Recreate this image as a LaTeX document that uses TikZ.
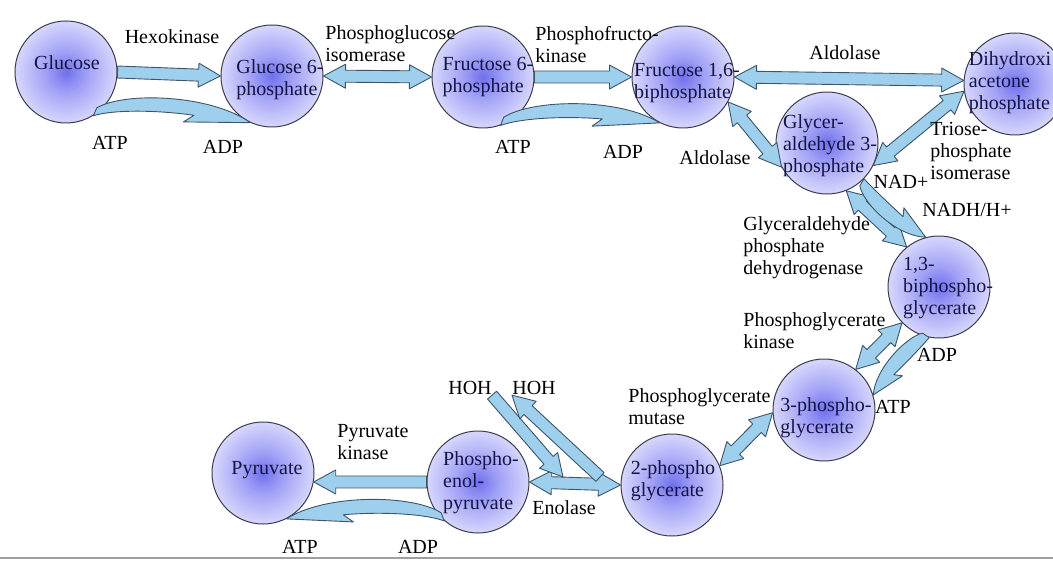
\documentclass[tikz,border=0pt]{standalone}
\usepackage{fontspec}
\setmainfont{Liberation Serif}
\usetikzlibrary{calc}
\definecolor{ballin}{RGB}{112,112,236}
\definecolor{ballmid}{RGB}{160,160,246}
\definecolor{ballout}{RGB}{222,222,253}
\definecolor{ballrim}{RGB}{60,60,75}
\definecolor{ballink}{RGB}{20,20,70}
\definecolor{arrowfill}{RGB}{158,208,238}
\definecolor{arrowrim}{RGB}{62,84,104}
\pgfdeclareradialshading{blob}{\pgfpoint{0bp}{0bp}}{color(0bp)=(ballin); color(10bp)=(ballmid); color(27bp)=(ballout); color(50bp)=(ballout)}
\tikzset{
  ball/.style={circle,draw=ballrim,line width=.5pt,shading=blob,minimum size=51pt,inner sep=0pt},
  balltext/.style={align=left,text=ballink,inner sep=0pt},
  lbl/.style={text=black,inner sep=0pt},
  fat/.style={fill=arrowfill,draw=arrowrim,line width=.45pt,line join=round},
}
% block arrow, one head
\newcommand\onearrow[2]{%
  \coordinate (fa) at (#1); \coordinate (fb) at (#2);
  \filldraw[fat] ($(fa)!3pt!90:(fb)$) -- ($(fb)!11pt!(fa)!3pt!90:(fb)$) -- ($(fb)!11pt!(fa)!6pt!90:(fb)$)
    -- (fb) -- ($(fb)!11pt!(fa)!6pt!-90:(fb)$) -- ($(fb)!11pt!(fa)!3pt!-90:(fb)$) -- ($(fa)!3pt!-90:(fb)$) -- cycle;}
% block arrow, two heads
\newcommand\twoarrow[2]{%
  \coordinate (fa) at (#1); \coordinate (fb) at (#2);
  \filldraw[fat] (fa) -- ($(fa)!11pt!(fb)!6pt!90:(fb)$) -- ($(fa)!11pt!(fb)!3pt!90:(fb)$)
    -- ($(fb)!11pt!(fa)!3pt!90:(fb)$) -- ($(fb)!11pt!(fa)!6pt!90:(fb)$) -- (fb)
    -- ($(fb)!11pt!(fa)!6pt!-90:(fb)$) -- ($(fb)!11pt!(fa)!3pt!-90:(fb)$)
    -- ($(fa)!11pt!(fb)!3pt!-90:(fb)$) -- ($(fa)!11pt!(fb)!6pt!-90:(fb)$) -- cycle;}
% bent arrow for ATP/ADP and NAD: tail, tip, side, lift
\newcommand\cofarrow[4]{%
  \coordinate (ca) at (#1); \coordinate (cb) at (#2);
  \pgfmathsetmacro\lo{#4+9}\pgfmathsetmacro\lh{0.6*#4}\pgfmathsetmacro\lb{0.6*#4-3.5}
  \filldraw[fat] (ca) -- ($(ca)!0.02!(cb)!4pt!#3:(cb)$)
    .. controls ($(ca)!0.2!(cb)!\lo pt!#3:(cb)$) and ($(ca)!0.75!(cb)!\lo pt!#3:(cb)$) .. (cb)
    -- ($(ca)!0.575!(cb)!\lb pt!#3:(cb)$) -- ($(ca)!0.64!(cb)!\lh pt!#3:(cb)$)
    .. controls ($(ca)!0.45!(cb)!#4pt!#3:(cb)$) and ($(ca)!0.15!(cb)!#4pt!#3:(cb)$) .. (ca) -- cycle;}
\begin{document}
\begin{tikzpicture}[x=.5pt,y=-.5pt,font=\fontsize{10}{11}\selectfont]
\useasboundingbox (0,0) rectangle (1053,561);
% metabolites
\node[ball] (glc) at (66,72) {};
\node[ball] (g6p) at (272,76) {};
\node[ball] (f6p) at (483,77) {};
\node[ball] (f16) at (683,77) {};
\node[ball] (dhap) at (1015,84) {};
\node[ball] (ga3p) at (827,143) {};
\node[ball] (bpg) at (939,287) {};
\node[ball] (pg3) at (824,410) {};
\node[ball] (pg2) at (672,485) {};
\node[ball] (pep) at (478,482) {};
\node[ball] (pyr) at (263,473) {};
% reactions
\onearrow{glc.east}{g6p.west}
\twoarrow{g6p.east}{f6p.west}
\onearrow{f6p.east}{f16.west}
\twoarrow{f16.east}{dhap.176}
\twoarrow{f16.-29}{ga3p.208}
\twoarrow{dhap.188}{ga3p.-26}
\twoarrow{ga3p.-68}{bpg.129}
\twoarrow{bpg.224}{pg3.52}
\twoarrow{pg3.183}{pg2.22}
\twoarrow{pg2.west}{pep.east}
\onearrow{pep.west}{pyr.-10}
\cofarrow{glc.-58}{g6p.245}{90}{4}
\cofarrow{f6p.-70}{f16.243}{90}{4}
\cofarrow{ga3p.-44}{bpg.105}{-90}{0.5}
\cofarrow{bpg.259}{pg3.17}{-90}{-0.5}
\cofarrow{pep.229}{pyr.-63}{-90}{4}
% names in the circles
\node[balltext] (glc-t) at ($(glc)+(1,-9)$) {Glucose};
\node[balltext] (g6p-t) at ($(g6p)+(8,4)$) {Glucose 6-\\phosphate};
\node[balltext] (f6p-t) at ($(f6p)+(5,0)$) {Fructose 6-\\phosphate};
\node[balltext] (f16-t) at ($(f16)+(4,6)$) {Fructose 1,6-\\biphosphate};
\node[balltext] (dhap-t) at ($(dhap)+(-5,-1)$) {Dihydroxi\\acetone\\phosphate};
\node[balltext] (ga3p-t) at ($(ga3p)+(3,3)$) {Glycer-\\aldehyde 3-\\phosphate};
\node[balltext] (bpg-t) at ($(bpg)+(9,1)$) {1,3-\\biphospho-\\glycerate};
\node[balltext] (pg3-t) at ($(pg3)+(2,8)$) {3-phospho-\\glycerate};
\node[balltext] (pg2-t) at ($(pg2)+(1,-4)$) {2-phospho\\glycerate};
\node[balltext] (pep-t) at ($(pep)+(3,1)$) {Phospho-\\enol-\\pyruvate};
\node[balltext] (pyr-t) at ($(pyr)+(4,-3)$) {Pyruvate};
% enzymes and cofactors
\node[lbl] (hexo) at (172,37) {Hexokinase};
\node[lbl] (atp1) at (110,143) {ATP};
\node[lbl] (adp1) at (223,147) {ADP};
\node[lbl,align=left,anchor=west] (pgi) at (325,44) {Phosphoglucose\\isomerase};
\node[lbl,align=left,anchor=west] (pfk) at (535,45) {Phosphofructo-\\kinase};
\node[lbl] (atp2) at (513,147) {ATP};
\node[lbl] (adp2) at (623,152) {ADP};
\node[lbl] (ald1) at (845,53) {Aldolase};
\node[lbl] (ald2) at (715,158) {Aldolase};
\node[lbl,align=left,anchor=west] (tpi) at (930,151) {Triose-\\phosphate\\isomerase};
\node[lbl] (nad) at (901,182) {NAD+};
\node[lbl] (nadh) at (967,210) {NADH/H+};
\node[lbl,align=left,anchor=west] (gapdh) at (743,248) {Glyceraldehyde\\phosphate\\dehydrogenase};
\node[lbl,align=left,anchor=west] (pgk) at (743,331) {Phosphoglycerate\\kinase};
\node[lbl] (adp3) at (937,355) {ADP};
\node[lbl] (atp3) at (893,407) {ATP};
\node[lbl,align=left,anchor=west] (pgm) at (628,407) {Phosphoglycerate\\mutase};
\node[lbl] (hoh1) at (470,388) {HOH};
\node[lbl] (hoh2) at (534,388) {HOH};
\node[lbl] (eno) at (564,508) {Enolase};
\node[lbl,align=left,anchor=west] (pk) at (337,442) {Pyruvate\\kinase};
\node[lbl] (atp4) at (300,547) {ATP};
\node[lbl] (adp4) at (418,547) {ADP};
% water in and out at the enolase step
\coordinate (h2oin) at (563,477);
\coordinate (h2oout) at (600,477);
\onearrow{hoh1.south east}{h2oin}
\onearrow{h2oout}{hoh2.south west}
\draw[gray!75,line width=1pt] (0,558) -- (1053,558);
\end{tikzpicture}
\end{document}
